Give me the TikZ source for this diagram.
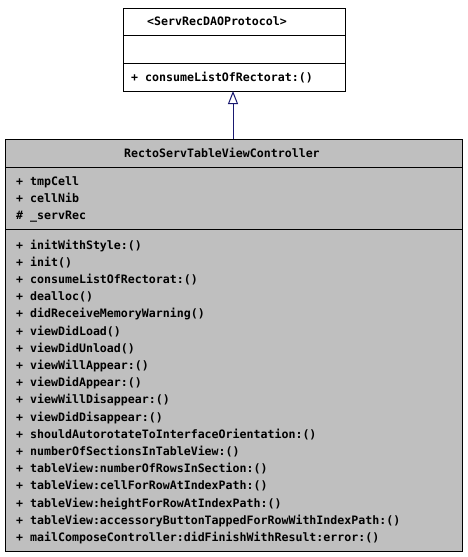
\documentclass[tikz,border=0pt]{standalone}
\usepackage{fontspec}
\setmonofont{DejaVu Sans Mono}
\usetikzlibrary{arrows.meta}
\definecolor{umlgray}{RGB}{191,191,191}
\definecolor{edgeblue}{RGB}{25,25,112}
\tikzset{
  umlbox/.style={draw=black, line width=1pt, anchor=north west, inner sep=0pt},
  sepline/.style={draw=black, line width=1pt},
  txt/.style={font=\ttfamily\bfseries\fontsize{11.6}{13}\selectfont, anchor=base west, inner sep=0pt},
  inherit/.style={draw=edgeblue, line width=1pt, -{Triangle[open, width=10pt, length=13pt]}}
}
\begin{document}
\begin{tikzpicture}[x=1pt, y=-1pt]
\useasboundingbox (0,0) rectangle (467,557);
% interface box
\node[umlbox, fill=white, minimum width=222pt, minimum height=83pt] (proto) at (123,8) {};
\coordinate (ps1l) at (123,35); \coordinate (ps1r) at (345,35);
\coordinate (ps2l) at (123,63); \coordinate (ps2r) at (345,63);
\draw[sepline] (ps1l) -- (ps1r);
\draw[sepline] (ps2l) -- (ps2r);
\node[txt] (ptitle) at (147,25) {<ServRecDAOProtocol>};
\node[txt] (pm1) at (131,81) {+ consumeListOfRectorat:()};
% class box
\node[umlbox, fill=umlgray, minimum width=457pt, minimum height=412pt] (cls) at (5,139) {};
\coordinate (cs1l) at (5,167); \coordinate (cs1r) at (462,167);
\coordinate (cs2l) at (5,229); \coordinate (cs2r) at (462,229);
\draw[sepline] (cs1l) -- (cs1r);
\draw[sepline] (cs2l) -- (cs2r);
\node[txt] (ctitle) at (124,157) {RectoServTableViewController};
\node[txt] (a1) at (16,185) {+ tmpCell};
\node[txt] (a2) at (16,202) {+ cellNib};
\node[txt] (a3) at (16,219) {\# \_servRec};
\foreach \m [count=\i from 0] in {
  {+ initWithStyle:()},
  {+ init()},
  {+ consumeListOfRectorat:()},
  {+ dealloc()},
  {+ didReceiveMemoryWarning()},
  {+ viewDidLoad()},
  {+ viewDidUnload()},
  {+ viewWillAppear:()},
  {+ viewDidAppear:()},
  {+ viewWillDisappear:()},
  {+ viewDidDisappear:()},
  {+ shouldAutorotateToInterfaceOrientation:()},
  {+ numberOfSectionsInTableView:()},
  {+ tableView:numberOfRowsInSection:()},
  {+ tableView:cellForRowAtIndexPath:()},
  {+ tableView:heightForRowAtIndexPath:()},
  {+ tableView:accessoryButtonTappedForRowWithIndexPath:()},
  {+ mailComposeController:didFinishWithResult:error:()}
}{
  \node[txt] (m\i) at (16,249+\i*17.2) {\m};
}
% inheritance
\coordinate (cin) at (233,139);
\coordinate (pin) at (233,91);
\draw[inherit] (cin) -- (pin);
\end{tikzpicture}
\end{document}
